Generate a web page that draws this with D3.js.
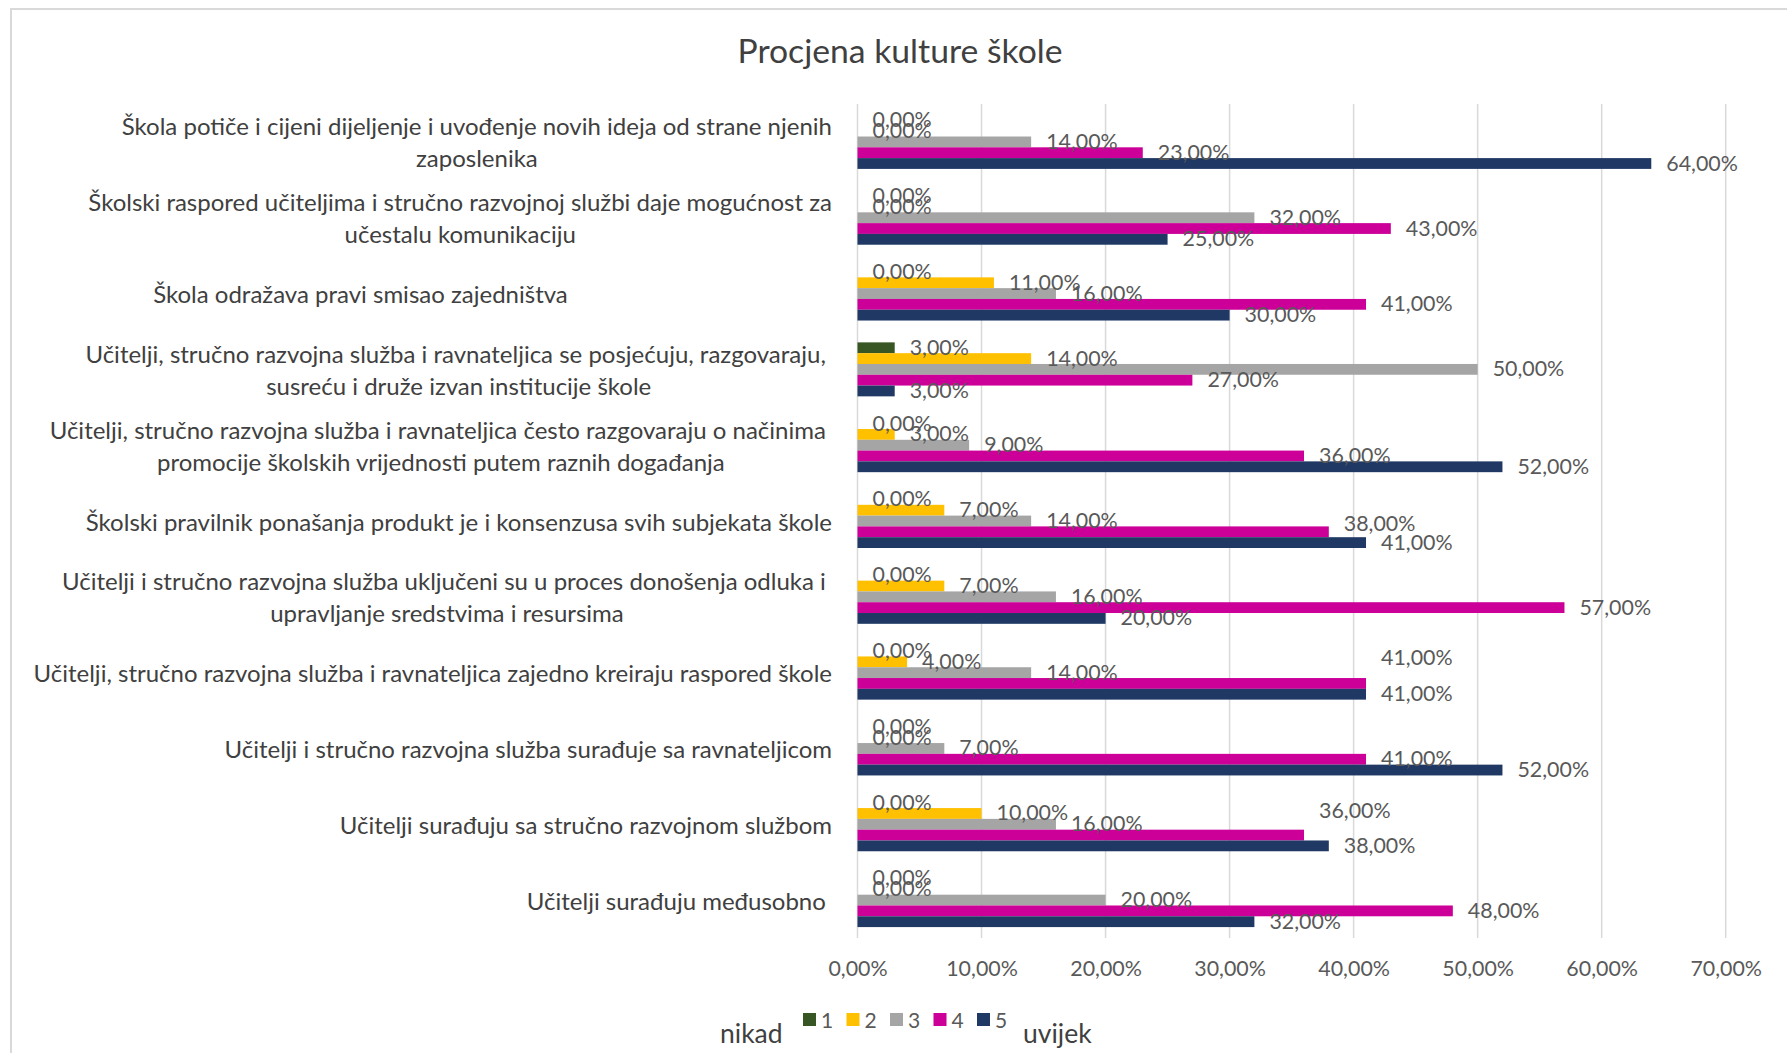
<!DOCTYPE html>
<html><head><meta charset="utf-8">
<script src="https://cdn.jsdelivr.net/npm/d3@7/dist/d3.min.js"></script>
<style>
body{margin:0;background:#fff;overflow:hidden;}
svg text{font-family:Lato, "Open Sans", sans-serif;}
</style></head><body>
<svg id="chart" width="1787" height="1053"></svg>
<script>
// ---------- data ----------
const title = "Procjena kulture škole";
const NB = "\u00A0";
const categoryLines = [
  ["Škola potiče i cijeni dijeljenje i uvođenje novih ideja od strane njenih", "zaposlenika"],
  ["Školski raspored učiteljima i stručno razvojnoj službi daje mogućnost za", "učestalu komunikaciju"],
  ["Škola odražava pravi smisao zajedništva" + NB.repeat(43)],
  ["Učitelji, stručno razvojna služba i ravnateljica se posjećuju, razgovaraju," + NB, "susreću i druže izvan institucije škole"],
  ["Učitelji, stručno razvojna služba i ravnateljica često razgovaraju o načinima" + NB, "promocije školskih vrijednosti putem raznih događanja"],
  ["Školski pravilnik ponašanja produkt je i konsenzusa svih subjekata škole"],
  ["Učitelji i stručno razvojna služba uključeni su u proces donošenja odluka i" + NB, "upravljanje sredstvima i resursima"],
  ["Učitelji, stručno razvojna služba i ravnateljica zajedno kreiraju raspored škole"],
  ["Učitelji i stručno razvojna služba surađuje sa ravnateljicom"],
  ["Učitelji surađuju sa stručno razvojnom službom"],
  ["Učitelji surađuju međusobno" + NB]
];
const seriesNames = ["1", "2", "3", "4", "5"];
const series1 = [0, 0, 0, 3, 0, 0, 0, 0, 0, 0, 0];
const series2 = [0, 0, 11, 14, 3, 7, 7, 4, 0, 10, 0];
const series3 = [14, 32, 16, 50, 9, 14, 16, 14, 7, 16, 20];
const series4 = [23, 43, 41, 27, 36, 38, 57, 41, 41, 36, 48];
const series5 = [64, 25, 30, 3, 52, 41, 20, 41, 52, 38, 32];
const xTicks = [0, 10, 20, 30, 40, 50, 60, 70];
const legendLow = "nikad";
const legendHigh = "uvijek";

// ---------- style ----------
const colors = ["#375623", "#FFC000", "#A5A5A5", "#CC0099", "#1F3864"];
// manually moved data labels in the original (category index, series index, vertical shift px)
const labelShifts = [{c: 5, s: 3, dy: -8}, {c: 7, s: 3, dy: -25}, {c: 9, s: 3, dy: -24}];

const allSeries = [series1, series2, series3, series4, series5];
const locale = d3.formatLocale({decimal: ",", thousands: ".", grouping: [3], currency: ["", " €"]});
const fmt = v => locale.format(".2f")(v) + "%";

const svg = d3.select("#chart");

// chart frame
svg.append("rect").attr("x", 11).attr("y", 9).attr("width", 1900).attr("height", 1200)
  .attr("fill", "none").attr("stroke", "#d9d9d9").attr("stroke-width", 2);

const x = d3.scaleLinear().domain([0, 70]).range([857.5, 1725.7]);
const y0 = d3.scaleBand().domain(d3.range(categoryLines.length)).range([104, 938])
  .paddingInner(0.288).paddingOuter(0.144);
const y1 = d3.scaleBand().domain(d3.range(seriesNames.length)).range([0, y0.bandwidth()]);

// title
svg.append("text").attr("x", 900).attr("y", 63).attr("text-anchor", "middle")
  .attr("font-size", 33.7).attr("fill", "#404040").text(title);

// gridlines
svg.append("g").selectAll("line").data(xTicks).join("line")
  .attr("x1", d => x(d)).attr("x2", d => x(d)).attr("y1", 104).attr("y2", 938)
  .attr("stroke", "#d9d9d9").attr("stroke-width", 1.5);

// x axis tick labels
const xAxis = d3.axisBottom(x).tickValues(xTicks).tickFormat(fmt).tickSize(0).tickPadding(0);
const gx = svg.append("g").attr("transform", "translate(0,968)").call(xAxis);
gx.select(".domain").remove();
gx.selectAll("text").attr("font-size", 21.4).attr("fill", "#595959")
  .attr("font-family", "Lato, 'Open Sans', sans-serif").attr("dy", "0.35em").attr("y", 0);

// bars
const flat = [];
allSeries.forEach((arr, s) => arr.forEach((v, c) => flat.push({c, s, v})));
svg.append("g").selectAll("rect").data(flat).join("rect")
  .attr("x", x(0)).attr("y", d => y0(d.c) + y1(d.s))
  .attr("width", d => x(d.v) - x(0)).attr("height", y1.bandwidth())
  .attr("fill", d => colors[d.s]);

// data labels
svg.append("g").selectAll("text").data(flat).join("text")
  .attr("x", d => x(d.v) + 15)
  .attr("y", d => {
    const sh = labelShifts.find(o => o.c === d.c && o.s === d.s);
    return y0(d.c) + y1(d.s) + y1.bandwidth() / 2 - 1 + (sh ? sh.dy : 0);
  })
  .attr("dominant-baseline", "central").attr("font-size", 21.4).attr("fill", "#595959")
  .text(d => fmt(d.v));

// category labels
const catG = svg.append("g");
categoryLines.forEach((lines, c) => {
  const cy = y0(c) + y0.bandwidth() / 2;
  const g = catG.append("g");
  const texts = g.selectAll("text").data(lines).join("text")
    .attr("y", (d, i) => cy + (i - (lines.length - 1) / 2) * 32)
    .attr("dominant-baseline", "central").attr("text-anchor", "middle")
    .attr("font-size", 24).attr("fill", "#404040")
    .style("white-space", "pre").text(d => d);
  let w = 0;
  texts.each(function() { w = Math.max(w, this.getComputedTextLength()); });
  texts.attr("x", 832 - w / 2);
});

// legend
const leg = svg.append("g");
const legStart = 803, legStep = 43.5;
seriesNames.forEach((name, i) => {
  leg.append("rect").attr("x", legStart + i * legStep).attr("y", 1013).attr("width", 13).attr("height", 13)
    .attr("fill", colors[i]);
  leg.append("text").attr("x", legStart + i * legStep + 18).attr("y", 1019.5)
    .attr("dominant-baseline", "central").attr("font-size", 21).attr("fill", "#595959").text(name);
});
svg.append("text").attr("x", 720).attr("y", 1043).attr("font-size", 26.5).attr("fill", "#404040").text(legendLow);
svg.append("text").attr("x", 1023).attr("y", 1043).attr("font-size", 26.5).attr("fill", "#404040").text(legendHigh);
</script>
</body></html>
